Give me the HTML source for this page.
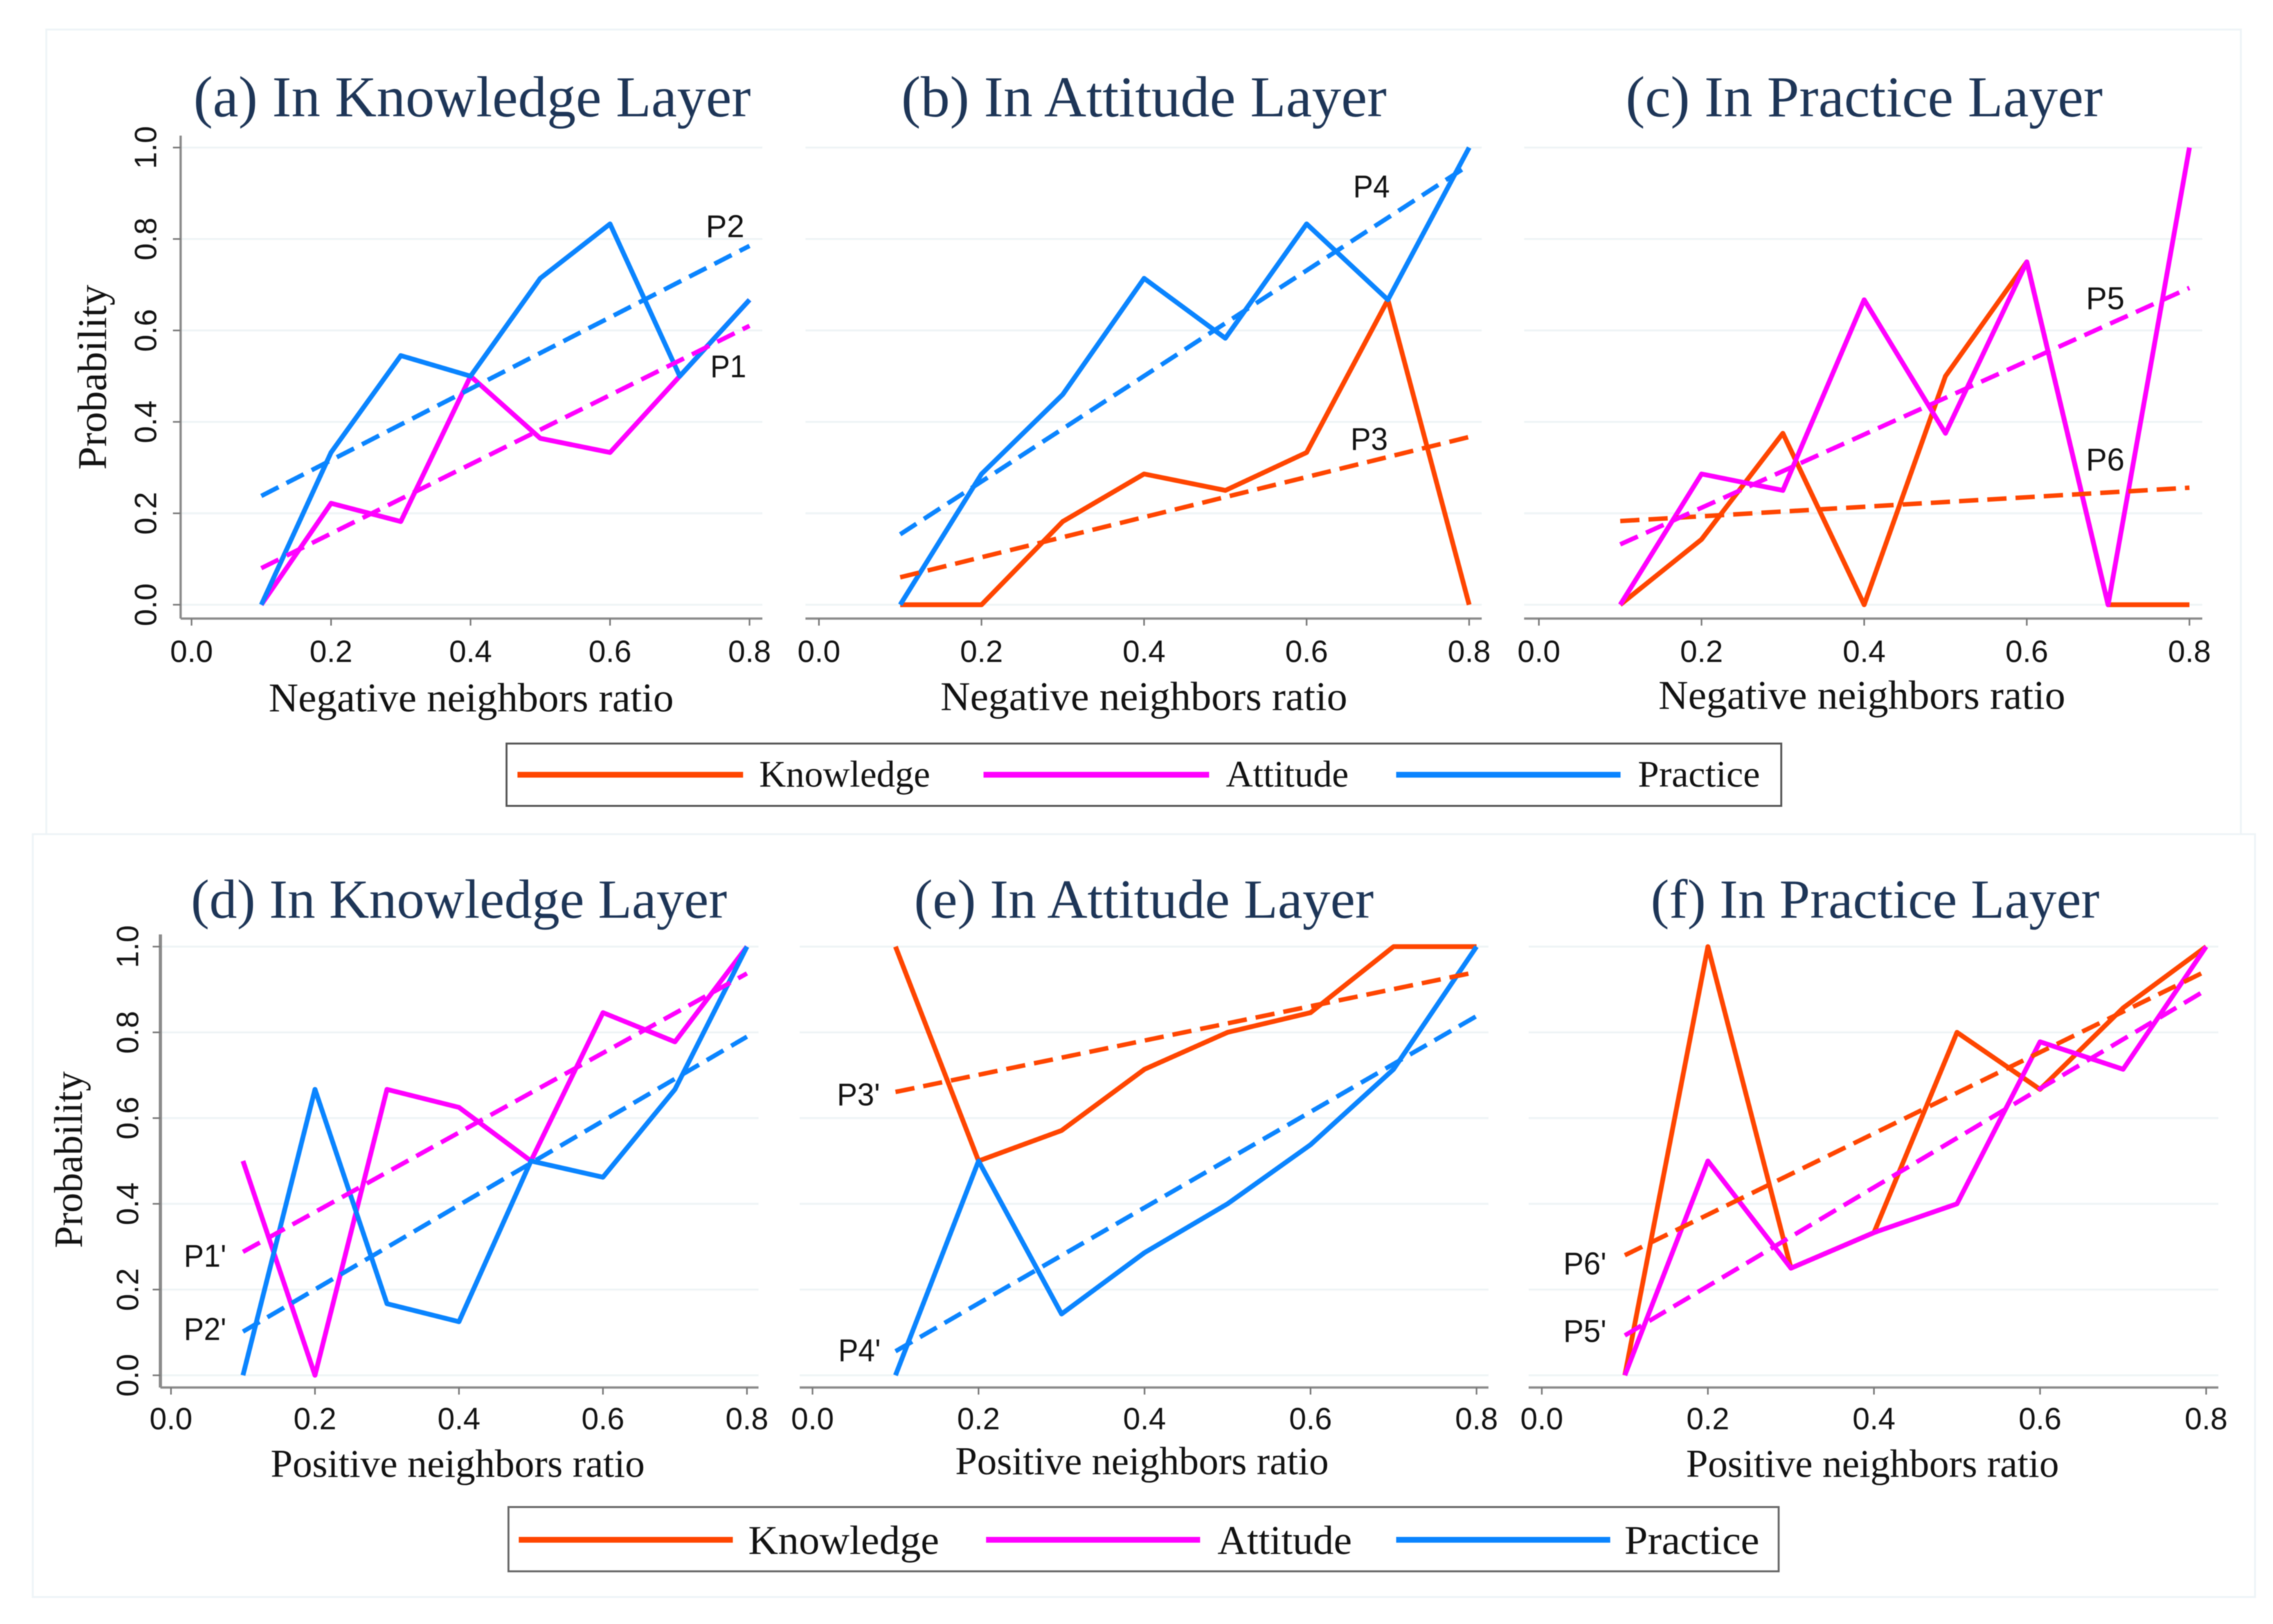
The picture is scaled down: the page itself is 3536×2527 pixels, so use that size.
<!DOCTYPE html>
<html lang="en">
<head>
<meta charset="utf-8">
<title>Probability by neighbors ratio</title>
<style>
html,body{margin:0;padding:0;background:#fff;}
svg{display:block;filter:blur(0.9px);}
.title{font-family:"Liberation Serif",serif;fill:#1d3557;}
.axt{font-family:"Liberation Serif",serif;fill:#111;}
.leg{font-family:"Liberation Serif",serif;fill:#111;}
.tick{font-family:"Liberation Sans",sans-serif;font-size:48px;fill:#111;}
.ann{font-family:"Liberation Sans",sans-serif;font-size:49px;fill:#111;}
</style>
</head>
<body>
<svg id="figure" xmlns="http://www.w3.org/2000/svg" width="3536" height="2527" viewBox="0 0 3536 2527">
<rect x="0" y="0" width="3536" height="2527" fill="#ffffff"/>
<rect x="72" y="46" width="3414" height="1252" fill="#ffffff" stroke="#eef4f7" stroke-width="3"/>
<rect x="51" y="1298" width="3457" height="1187" fill="#ffffff" stroke="#eef4f7" stroke-width="3"/>

<g id="plots"></g>

<text class="title" x="301" y="181" font-size="90" textLength="867" lengthAdjust="spacingAndGlyphs">(a) In Knowledge Layer</text>
<text class="title" x="1402" y="181" font-size="90" textLength="755" lengthAdjust="spacingAndGlyphs">(b) In Attitude Layer</text>
<text class="title" x="2529" y="181" font-size="90" textLength="742" lengthAdjust="spacingAndGlyphs">(c) In Practice Layer</text>
<text class="title" x="297" y="1428" font-size="86" textLength="834" lengthAdjust="spacingAndGlyphs">(d) In Knowledge Layer</text>
<text class="title" x="1422" y="1428" font-size="86" textLength="715" lengthAdjust="spacingAndGlyphs">(e) In Attitude Layer</text>
<text class="title" x="2568" y="1428" font-size="86" textLength="698" lengthAdjust="spacingAndGlyphs">(f) In Practice Layer</text>

<text class="axt" x="418" y="1107" font-size="64" textLength="630" lengthAdjust="spacingAndGlyphs">Negative neighbors ratio</text>
<text class="axt" x="1463" y="1105" font-size="64" textLength="633" lengthAdjust="spacingAndGlyphs">Negative neighbors ratio</text>
<text class="axt" x="2580" y="1103" font-size="64" textLength="633" lengthAdjust="spacingAndGlyphs">Negative neighbors ratio</text>
<text class="axt" x="421" y="2298" font-size="61" textLength="582" lengthAdjust="spacingAndGlyphs">Positive neighbors ratio</text>
<text class="axt" x="1486" y="2294" font-size="61" textLength="581" lengthAdjust="spacingAndGlyphs">Positive neighbors ratio</text>
<text class="axt" x="2623" y="2298" font-size="61" textLength="580" lengthAdjust="spacingAndGlyphs">Positive neighbors ratio</text>

<text class="axt" transform="translate(165,731) rotate(-90)" x="0" y="0" font-size="64" textLength="288" lengthAdjust="spacingAndGlyphs">Probability</text>
<text class="axt" transform="translate(127.5,1942) rotate(-90)" x="0" y="0" font-size="62" textLength="275" lengthAdjust="spacingAndGlyphs">Probability</text>

<text class="ann" x="1098" y="369" textLength="60" lengthAdjust="spacingAndGlyphs">P2</text>
<text class="ann" x="1105" y="587" textLength="56" lengthAdjust="spacingAndGlyphs">P1</text>
<text class="ann" x="2105" y="307" textLength="57" lengthAdjust="spacingAndGlyphs">P4</text>
<text class="ann" x="2101" y="700" textLength="58" lengthAdjust="spacingAndGlyphs">P3</text>
<text class="ann" x="3245" y="481" textLength="60" lengthAdjust="spacingAndGlyphs">P5</text>
<text class="ann" x="3245" y="732" textLength="60" lengthAdjust="spacingAndGlyphs">P6</text>
<text class="ann" x="286" y="1971" textLength="66" lengthAdjust="spacingAndGlyphs">P1'</text>
<text class="ann" x="286" y="2085" textLength="66" lengthAdjust="spacingAndGlyphs">P2'</text>
<text class="ann" x="1302" y="1720" textLength="67" lengthAdjust="spacingAndGlyphs">P3'</text>
<text class="ann" x="1304" y="2118" textLength="66" lengthAdjust="spacingAndGlyphs">P4'</text>
<text class="ann" x="2432" y="1983" textLength="67" lengthAdjust="spacingAndGlyphs">P6'</text>
<text class="ann" x="2432" y="2088" textLength="67" lengthAdjust="spacingAndGlyphs">P5'</text>

<g>
<rect x="788" y="1157" width="1983" height="97" fill="#ffffff" stroke="#555555" stroke-width="3"/>
<line x1="805" y1="1205.5" x2="1156" y2="1205.5" stroke="#ff4500" stroke-width="9"/>
<text class="leg" x="1181" y="1224" font-size="58" textLength="266" lengthAdjust="spacingAndGlyphs">Knowledge</text>
<line x1="1530" y1="1205.5" x2="1881" y2="1205.5" stroke="#ff00ff" stroke-width="9"/>
<text class="leg" x="1907" y="1224" font-size="58" textLength="191" lengthAdjust="spacingAndGlyphs">Attitude</text>
<line x1="2172" y1="1205.5" x2="2521" y2="1205.5" stroke="#0a84ff" stroke-width="9"/>
<text class="leg" x="2548" y="1224" font-size="58" textLength="190" lengthAdjust="spacingAndGlyphs">Practice</text>
</g>
<g>
<rect x="791" y="2345" width="1976" height="100" fill="#ffffff" stroke="#666666" stroke-width="3"/>
<line x1="807" y1="2396" x2="1140" y2="2396" stroke="#ff4500" stroke-width="9"/>
<text class="leg" x="1164" y="2418" font-size="64" textLength="297" lengthAdjust="spacingAndGlyphs">Knowledge</text>
<line x1="1534" y1="2396" x2="1867" y2="2396" stroke="#ff00ff" stroke-width="9"/>
<text class="leg" x="1894" y="2418" font-size="64" textLength="209" lengthAdjust="spacingAndGlyphs">Attitude</text>
<line x1="2172" y1="2396" x2="2505" y2="2396" stroke="#0a84ff" stroke-width="9"/>
<text class="leg" x="2527" y="2418" font-size="64" textLength="210" lengthAdjust="spacingAndGlyphs">Practice</text>
</g>
</svg>

<script>
// ---- data ----
const ratios = [0.1, 0.2, 0.3, 0.4, 0.5, 0.6, 0.7, 0.8];
const trendRatios = [0.1, 0.8];
const xTickValues = [0, 0.2, 0.4, 0.6, 0.8];
const xTickLabels = ['0.0', '0.2', '0.4', '0.6', '0.8'];
const yTickValues = [0, 0.2, 0.4, 0.6, 0.8, 1];
const yTickLabels = ['0.0', '0.2', '0.4', '0.6', '0.8', '1.0'];

const aAttitude = [0, 0.222, 0.182, 0.5, 0.364, 0.333, 0.5, 0.667];
const aPractice = [0, 0.333, 0.545, 0.5, 0.714, 0.833, 0.5, 0.667];
const aAttitudeTrend = [0.08, 0.61];
const aPracticeTrend = [0.238, 0.785];

const bKnowledge = [0, 0, 0.182, 0.286, 0.25, 0.333, 0.667, 0];
const bPractice = [0, 0.286, 0.46, 0.714, 0.583, 0.833, 0.667, 1];
const bKnowledgeTrend = [0.06, 0.367];
const bPracticeTrend = [0.154, 0.962];

const cKnowledge = [0, 0.143, 0.375, 0, 0.5, 0.75, 0, 0];
const cAttitude = [0, 0.286, 0.25, 0.667, 0.375, 0.75, 0, 1];
const cKnowledgeTrend = [0.183, 0.256];
const cAttitudeTrend = [0.132, 0.693];

const dAttitude = [0.5, 0, 0.667, 0.625, 0.5, 0.846, 0.778, 1];
const dPractice = [0, 0.667, 0.167, 0.125, 0.5, 0.462, 0.667, 1];
const dAttitudeTrend = [0.288, 0.9375];
const dPracticeTrend = [0.102, 0.79];

const eKnowledge = [1, 0.5, 0.571, 0.714, 0.8, 0.846, 1, 1];
const ePractice = [0, 0.5, 0.143, 0.286, 0.4, 0.538, 0.714, 1];
const eKnowledgeTrend = [0.661, 0.941];
const ePracticeTrend = [0.056, 0.838];

const fKnowledge = [0, 1, 0.25, 0.333, 0.8, 0.667, 0.857, 1];
const fAttitude = [0, 0.5, 0.25, 0.333, 0.4, 0.778, 0.714, 1];
const fKnowledgeTrend = [0.28, 0.943];
const fAttitudeTrend = [0.093, 0.899];

// ---- drawing ----
const SVGNS = 'http://www.w3.org/2000/svg';
const KNOWLEDGE_COLOR = '#ff4500';
const ATTITUDE_COLOR = '#ff00ff';
const PRACTICE_COLOR = '#0a84ff';
const plotsGroup = document.getElementById('plots');

function make(tag, attrs, parent) {
  const el = document.createElementNS(SVGNS, tag);
  for (const k in attrs) el.setAttribute(k, attrs[k]);
  parent.appendChild(el);
  return el;
}

function drawPanel(id, f, solids, trends) {
  const xScale = v => f.x0 + (v / 0.8) * (f.x8 - f.x0);
  const yScale = v => f.y0 + v * (f.y1 - f.y0);

  const g = make('g', {}, plotsGroup);
  
  

  yTickValues.forEach(function (v) {
    const grid = make('line', {x1: f.left, x2: f.right, y1: yScale(v), y2: yScale(v), stroke: '#eef4f6', 'stroke-width': 3}, g);
    
    
  });

  const xAxis = make('line', {x1: f.left, x2: f.right, y1: f.axisY, y2: f.axisY, stroke: '#8a8a8a', 'stroke-width': 3.5}, g);
  
  

  xTickValues.forEach(function (v, i) {
    const tick = make('line', {x1: xScale(v), x2: xScale(v), y1: f.axisY, y2: f.axisY + 11, stroke: '#777777', 'stroke-width': 2.5}, g);
    
    
    const label = make('text', {x: xScale(v), y: f.tickBase, 'text-anchor': 'middle', class: 'tick'}, g);
    label.textContent = xTickLabels[i];
    
    
  });

  if (f.showY) {
    const yAxis = make('line', {x1: f.left, x2: f.left, y1: f.axisTop, y2: f.axisY, stroke: '#8a8a8a', 'stroke-width': f.yAxisWidth}, g);
    
    
    yTickValues.forEach(function (v, i) {
      const tick = make('line', {x1: f.left - 12, x2: f.left, y1: yScale(v), y2: yScale(v), stroke: '#777777', 'stroke-width': 2.5}, g);
      
      
      const label = make('text', {transform: 'translate(' + f.yLabelX + ',' + yScale(v) + ') rotate(-90)', x: 0, y: 0, 'text-anchor': 'middle', class: 'tick'}, g);
      label.textContent = yTickLabels[i];
      
      
    });
  }

  solids.forEach(function (s) {
    const pts = s.values.map(function (v, i) { return xScale(ratios[i]).toFixed(1) + ',' + yScale(v).toFixed(1); }).join(' ');
    const line = make('polyline', {points: pts, fill: 'none', stroke: s.color, 'stroke-width': 7.5, 'stroke-linejoin': 'round'}, g);
    
    
  });

  trends.forEach(function (s) {
    const pts = s.values.map(function (v, i) { return xScale(trendRatios[i]).toFixed(1) + ',' + yScale(v).toFixed(1); }).join(' ');
    const line = make('polyline', {points: pts, fill: 'none', stroke: s.color, 'stroke-width': 7, 'stroke-dasharray': '30 14'}, g);
    
    
  });
}

const topRow = {y0: 941, y1: 229.6, axisY: 962.5, axisTop: 211, tickBase: 1030};
const bottomRow = {y0: 2140, y1: 1473, axisY: 2159, axisTop: 1454, tickBase: 2224};

drawPanel('a', Object.assign({}, topRow, {x0: 298, x8: 1166, left: 281, right: 1186, showY: true, yLabelX: 243, yAxisWidth: 3.5}),
  [{name: 'attitude', color: ATTITUDE_COLOR, values: aAttitude}, {name: 'practice', color: PRACTICE_COLOR, values: aPractice}],
  [{name: 'attitude', color: ATTITUDE_COLOR, values: aAttitudeTrend}, {name: 'practice', color: PRACTICE_COLOR, values: aPracticeTrend}]);

drawPanel('b', Object.assign({}, topRow, {x0: 1274, x8: 2285.5, left: 1253, right: 2305}),
  [{name: 'knowledge', color: KNOWLEDGE_COLOR, values: bKnowledge}, {name: 'practice', color: PRACTICE_COLOR, values: bPractice}],
  [{name: 'knowledge', color: KNOWLEDGE_COLOR, values: bKnowledgeTrend}, {name: 'practice', color: PRACTICE_COLOR, values: bPracticeTrend}]);

drawPanel('c', Object.assign({}, topRow, {x0: 2394, x8: 3406, left: 2371, right: 3426}),
  [{name: 'knowledge', color: KNOWLEDGE_COLOR, values: cKnowledge}, {name: 'attitude', color: ATTITUDE_COLOR, values: cAttitude}],
  [{name: 'knowledge', color: KNOWLEDGE_COLOR, values: cKnowledgeTrend}, {name: 'attitude', color: ATTITUDE_COLOR, values: cAttitudeTrend}]);

drawPanel('d', Object.assign({}, bottomRow, {x0: 266, x8: 1162, left: 249.5, right: 1180, showY: true, yLabelX: 215, yAxisWidth: 5}),
  [{name: 'attitude', color: ATTITUDE_COLOR, values: dAttitude}, {name: 'practice', color: PRACTICE_COLOR, values: dPractice}],
  [{name: 'attitude', color: ATTITUDE_COLOR, values: dAttitudeTrend}, {name: 'practice', color: PRACTICE_COLOR, values: dPracticeTrend}]);

drawPanel('e', Object.assign({}, bottomRow, {x0: 1264, x8: 2297, left: 1244, right: 2315.5}),
  [{name: 'knowledge', color: KNOWLEDGE_COLOR, values: eKnowledge}, {name: 'practice', color: PRACTICE_COLOR, values: ePractice}],
  [{name: 'knowledge', color: KNOWLEDGE_COLOR, values: eKnowledgeTrend}, {name: 'practice', color: PRACTICE_COLOR, values: ePracticeTrend}]);

drawPanel('f', Object.assign({}, bottomRow, {x0: 2398.5, x8: 3432, left: 2378, right: 3451}),
  [{name: 'knowledge', color: KNOWLEDGE_COLOR, values: fKnowledge}, {name: 'attitude', color: ATTITUDE_COLOR, values: fAttitude}],
  [{name: 'knowledge', color: KNOWLEDGE_COLOR, values: fKnowledgeTrend}, {name: 'attitude', color: ATTITUDE_COLOR, values: fAttitudeTrend}]);
</script>
</body>
</html>
